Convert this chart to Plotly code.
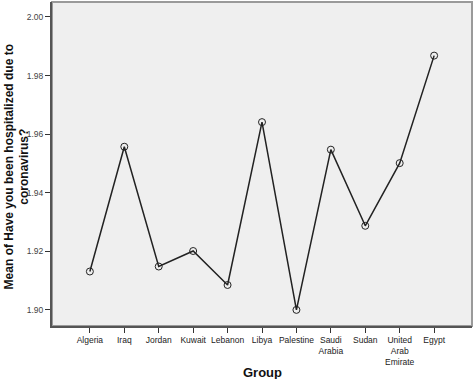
import plotly.graph_objects as go

categories = ["Algeria", "Iraq", "Jordan", "Kuwait", "Lebanon", "Libya", "Palestine",
              "Saudi Arabia", "Sudan", "United Arab Emirate", "Egypt"]
tick_labels = ["Algeria", "Iraq", "Jordan", "Kuwait", "Lebanon", "Libya", "Palestine",
               "Saudi<br>Arabia", "Sudan", "United<br>Arab<br>Emirate", "Egypt"]
means = [1.9131, 1.9557, 1.9148, 1.9201, 1.9085, 1.9641, 1.9000,
         1.9547, 1.9287, 1.9501, 1.9868]
y_ticks = [1.90, 1.92, 1.94, 1.96, 1.98, 2.00]

x_idx = list(range(len(categories)))

fig = go.Figure()
fig.add_trace(go.Scatter(
    x=x_idx, y=means, mode="lines+markers",
    line=dict(color="#222222", width=1.5),
    marker=dict(symbol="circle-open", size=7, color="#222222", line=dict(width=1)),
    hoverinfo="skip", showlegend=False,
))

fig.add_shape(type="rect", xref="paper", yref="paper", x0=0, x1=1, y0=0, y1=1,
              line=dict(color="#9a9a9a", width=2), layer="below")

fig.add_annotation(text="<b>Mean of Have you been hospitalized due to<br>coronavirus?</b>",
                   xref="paper", yref="paper", x=-0.083, y=0.49, xanchor="center",
                   yanchor="middle", textangle=-90, showarrow=False,
                   font=dict(size=12, color="#111111"))
fig.add_annotation(text="<b>Group</b>", xref="paper", yref="paper", x=0.5, y=-0.142,
                   xanchor="center", yanchor="middle", showarrow=False,
                   font=dict(size=13, color="#111111"))

fig.update_layout(
    width=474, height=379,
    margin=dict(l=52, r=2, t=2, b=53),
    paper_bgcolor="white", plot_bgcolor="#efefef",
    font=dict(family="Liberation Sans, Arial, sans-serif", color="#222222"),
    xaxis=dict(
        range=[-1.1, 11.1], tickmode="array", tickvals=x_idx, ticktext=tick_labels,
        ticks="outside", ticklen=5, tickcolor="#333333", tickwidth=1,
        tickfont=dict(size=8.5), showgrid=False, zeroline=False, automargin=False,
        showline=True, linecolor="#555555", linewidth=2,
    ),
    yaxis=dict(
        range=[1.8945, 2.0051], tickmode="array", tickvals=y_ticks,
        ticktext=[f"{v:.2f}" for v in y_ticks],
        ticks="outside", ticklen=5, tickcolor="#333333", tickwidth=1,
        tickfont=dict(size=8.5, color="#444444"), showgrid=False, zeroline=False,
        automargin=False, showline=True, linecolor="#555555", linewidth=2,
    ),
)

fig.write_html("out.html", config={"displayModeBar": False},
               post_script="document.body.style.margin='0';")
